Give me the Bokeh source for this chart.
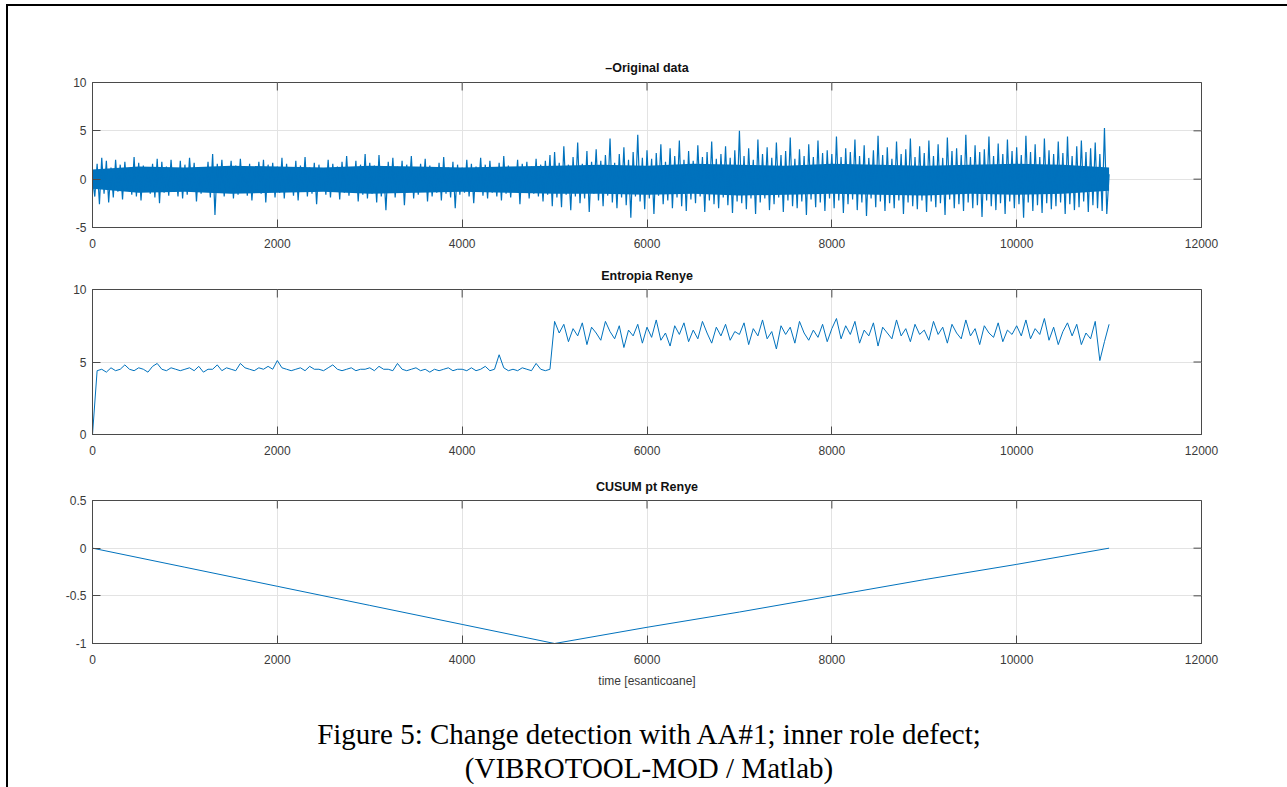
import math
from bokeh.plotting import figure
from bokeh.layouts import column
from bokeh.models import Div, LinearAxis, FixedTicker, Range1d, Title, Grid
from bokeh.embed import file_html
from bokeh.resources import INLINE

# ---------------- data ----------------
titles = ["\u2013Original data", "Entropia Renye", "CUSUM pt Renye"]
x_label = "time [esanticoane]"
x_ticks = [0, 2000, 4000, 6000, 8000, 10000, 12000]
y_ticks_orig = [-5, 0, 5, 10]
y_ticks_entr = [0, 5, 10]
y_ticks_cusum = [-1, -0.5, 0, 0.5]

orig_step = 25  # samples between listed values
orig_values = [
    # 0-1000
    0.0, -1.8, 1.6, -2.6, 2.2, -1.5, 1.9, -2.4, 1.2, -1.9, 2.0, -1.3, 1.5, -2.1, 1.8, -1.0, 1.1, -1.6, 2.3, -1.8,
    1.7, -2.2, 1.4, -1.2, 0.9, -1.5, 1.6, -1.9, 2.1, -2.5, 1.8, -1.4, 1.3, -1.7, 2.0, -1.2, 1.0, -1.8, 1.9, -2.0,
    # 1000-2000
    1.5, -1.6, 2.2, -1.1, 1.7, -2.3, 1.2, -1.5, 0.9, -1.2, 1.8, -1.9, 2.6, -3.7, 1.6, -1.4, 2.0, -1.8, 1.3, -1.0,
    1.9, -2.0, 1.4, -1.6, 2.1, -1.3, 1.0, -1.7, 1.6, -2.2, 1.2, -1.1, 1.8, -1.5, 2.0, -2.4, 1.5, -1.2, 1.7, -1.9,
    # 2000-3000
    1.3, -1.4, 2.2, -2.0, 1.6, -1.1, 1.0, -1.7, 1.9, -2.2, 1.4, -1.3, 2.3, -1.8, 1.2, -1.5, 1.7, -2.6, 1.5, -1.0,
    1.1, -1.6, 2.0, -1.9, 1.6, -1.2, 1.3, -2.1, 1.8, -1.4, 2.4, -1.7, 1.2, -1.3, 1.9, -2.3, 1.5, -1.6, 2.6, -2.0,
    # 3000-4000
    1.7, -1.5, 1.4, -2.4, 2.5, -1.8, 1.1, -3.2, 1.8, -1.3, 2.2, -1.9, 1.3, -1.4, 1.9, -2.7, 1.5, -1.2, 2.4, -2.0,
    1.2, -1.6, 1.6, -1.1, 2.1, -2.3, 1.4, -1.8, 1.0, -1.4, 1.7, -2.2, 2.3, -1.5, 1.2, -1.9, 1.8, -3.0, 1.5, -1.6,
    # 4000-5000
    1.2, -1.4, 2.0, -1.8, 1.6, -2.5, 1.3, -1.2, 2.2, -1.7, 1.5, -2.0, 1.9, -1.4, 1.1, -1.8, 1.7, -2.2, 2.4, -1.5,
    1.4, -1.9, 1.2, -1.3, 2.0, -2.6, 1.6, -1.1, 1.8, -2.0, 1.3, -1.5, 2.1, -1.8, 1.5, -2.3, 1.9, -1.6, 2.5, -2.8,
    # 5000-6000
    2.8, -1.9, 1.7, -2.9, 3.4, -1.6, 1.5, -3.2, 2.3, -1.8, 3.8, -2.5, 1.6, -2.0, 2.9, -3.4, 1.8, -1.5, 3.1, -2.2,
    1.9, -2.8, 2.5, -1.7, 4.2, -2.4, 1.7, -3.0, 2.6, -1.9, 3.3, -2.7, 2.0, -4.0, 2.8, -1.8, 4.6, -2.3, 2.2, -3.1,
    # 6000-7000
    3.0, -2.0, 2.1, -3.6, 2.7, -1.7, 3.6, -2.6, 1.8, -2.2, 3.2, -3.0, 2.4, -1.9, 4.0, -2.8, 2.0, -3.3, 2.9, -2.1,
    1.9, -2.5, 3.5, -1.8, 2.3, -3.4, 2.8, -2.2, 3.9, -2.6, 2.1, -3.0, 2.6, -1.9, 3.4, -2.7, 2.2, -3.5, 3.0, -2.3,
    # 7000-8000
    5.0, -2.5, 2.4, -3.1, 3.2, -2.0, 2.0, -3.6, 4.1, -2.4, 2.6, -2.0, 3.3, -3.2, 2.2, -2.6, 3.8, -1.9, 2.5, -3.4,
    2.9, -2.2, 4.3, -2.8, 2.1, -3.0, 3.1, -2.3, 2.4, -3.7, 3.6, -2.1, 2.3, -2.9, 4.0, -2.4, 2.7, -3.3, 3.0, -2.0,
    # 8000-9000
    2.6, -3.0, 4.4, -2.2, 2.3, -3.5, 3.2, -2.6, 2.8, -2.1, 4.1, -3.2, 2.4, -2.4, 3.5, -3.8, 2.2, -2.0, 3.0, -2.9,
    4.5, -2.3, 2.5, -3.3, 3.3, -2.5, 2.1, -3.0, 3.9, -2.2, 2.6, -3.6, 3.1, -2.4, 4.2, -2.8, 2.3, -3.1, 3.4, -2.2,
    # 9000-10000
    2.7, -3.4, 4.0, -2.3, 2.4, -2.9, 3.6, -2.5, 2.2, -3.7, 4.3, -2.1, 2.9, -3.0, 3.2, -2.6, 2.5, -3.3, 4.6, -2.4,
    2.3, -3.0, 3.5, -2.7, 2.8, -3.9, 3.1, -2.2, 4.4, -2.8, 2.4, -3.2, 3.7, -2.5, 2.6, -3.6, 4.1, -2.3, 2.9, -3.0,
    # 10000-11000
    3.3, -2.6, 2.5, -4.0, 4.5, -2.4, 2.8, -3.3, 3.6, -2.7, 2.3, -3.5, 4.2, -2.5, 3.0, -3.1, 2.6, -2.8, 3.9, -2.4,
    2.7, -3.6, 4.4, -2.6, 2.4, -3.2, 3.4, -2.9, 4.0, -2.3, 2.8, -3.4, 3.2, -2.7, 3.8, -3.0, 2.6, -3.3, 5.3, -3.6,
    0.5,
]

# dense core of the signal band (every 500 samples)
core_step = 500
core_upper = [1.0, 1.3, 1.2, 1.4, 1.3, 1.2, 1.4, 1.3, 1.2, 1.3, 1.4, 1.5,
              1.4, 1.6, 1.5, 1.4, 1.6, 1.5, 1.4, 1.5, 1.6, 1.5, 1.2]
core_lower = [-1.0, -1.4, -1.3, -1.5, -1.4, -1.3, -1.5, -1.4, -1.3, -1.4, -1.5, -1.5,
              -1.6, -1.5, -1.7, -1.6, -1.5, -1.6, -1.7, -1.5, -1.6, -1.5, -1.2]

entr_step = 50
entr_values = [
    # 0-1000
    0.0, 4.4, 4.5, 4.3, 4.6, 4.4, 4.5, 4.8, 4.5, 4.4, 4.6, 4.5, 4.3, 4.7, 4.9, 4.5, 4.4, 4.6, 4.5, 4.4,
    # 1000-2000
    4.5, 4.6, 4.4, 4.7, 4.3, 4.5, 4.5, 4.8, 4.4, 4.6, 4.5, 4.4, 4.9, 4.6, 4.5, 4.4, 4.6, 4.5, 4.7, 4.5,
    # 2000-3000
    5.1, 4.6, 4.5, 4.4, 4.5, 4.6, 4.4, 4.7, 4.5, 4.5, 4.4, 4.6, 4.8, 4.5, 4.4, 4.5, 4.6, 4.4, 4.5, 4.5,
    # 3000-4000
    4.6, 4.4, 4.7, 4.5, 4.5, 4.4, 4.9, 4.5, 4.4, 4.5, 4.6, 4.4, 4.5, 4.3, 4.5, 4.4, 4.5, 4.6, 4.4, 4.5,
    # 4000-5000
    4.5, 4.4, 4.6, 4.4, 4.5, 4.7, 4.4, 4.5, 5.5, 4.6, 4.4, 4.5, 4.4, 4.6, 4.5, 4.4, 4.9, 4.5, 4.4, 4.5,
    # 5000-6000
    7.8, 7.0, 7.6, 6.4, 7.3, 6.8, 7.7, 6.2, 7.4, 7.0, 6.5, 7.8, 7.1, 6.6, 7.5, 6.0, 7.2, 6.8, 7.6, 6.3,
    # 6000-7000
    7.4, 6.7, 7.9, 6.5, 7.0, 6.1, 7.5, 6.9, 7.7, 6.4, 7.2, 6.6, 7.8, 7.0, 6.3, 7.4, 6.8, 7.6, 6.5, 7.1,
    # 7000-8000
    6.9, 7.7, 6.2, 7.3, 6.8, 7.9, 6.6, 7.1, 5.9, 7.5, 6.9, 7.4, 6.3, 7.8, 7.0, 6.5, 7.2, 6.7, 7.6, 6.4,
    # 8000-9000
    7.3, 8.0, 6.6, 7.5, 6.9, 7.8, 6.3, 7.2, 6.8, 7.7, 6.1, 7.4, 7.0, 6.6, 7.9, 6.8, 7.3, 6.4, 7.6, 6.9,
    # 9000-10000
    7.2, 6.5, 7.8, 6.9, 7.4, 6.3, 7.6, 7.0, 6.6, 7.9, 6.8, 7.3, 6.2, 7.5, 7.0, 6.7, 7.7, 6.4, 7.2, 6.9,
    # 10000-11000
    7.5, 6.8, 7.9, 6.6, 7.3, 6.9, 8.0, 6.5, 7.4, 6.2, 7.1, 7.7, 6.8, 7.6, 6.2, 7.0, 6.6, 7.8, 5.1, 6.4,
    7.6,
]

cusum_x = [0, 1000, 2000, 3000, 4000, 5000, 6000, 7000, 8000, 9000, 10000, 11000]
cusum_values = [0.0, -0.2, -0.4, -0.6, -0.8, -1.0, -0.83, -0.67, -0.5, -0.33, -0.17, 0.0]

caption_lines = ["Figure 5: Change detection with AA#1; inner role defect;",
                 "(VIBROTOOL-MOD / Matlab)"]

orig_x = [i * orig_step for i in range(len(orig_values))]
core_x = [i * core_step for i in range(len(core_upper))]
entr_x = [i * entr_step for i in range(len(entr_values))]

# ---------------- styling ----------------
LINE = "#0072BD"
AX = "#4a4a4a"
GRID = "#e3e3e3"
FONT = "Liberation Sans"
W = 1272
X_MAX = 12000


def panel(title, yr, yticks, height, top, bottom, xlabel=None, title_standoff=15):
    p = figure(width=W, height=height, output_backend="svg", toolbar_location=None,
               x_range=Range1d(0, X_MAX), y_range=Range1d(*yr),
               min_border_left=84, min_border_right=79,
               min_border_top=top, min_border_bottom=bottom,
               x_axis_location=None, y_axis_location=None)
    for g in list(p.grid):
        g.visible = False
    p.outline_line_color = AX
    p.outline_line_width = 1
    p.background_fill_color = "white"
    p.border_fill_color = "white"
    xt = FixedTicker(ticks=x_ticks, minor_ticks=[])
    yt = FixedTicker(ticks=yticks, minor_ticks=[])
    for side, tk in [("below", xt), ("left", yt)]:
        ax = LinearAxis(ticker=tk)
        ax.axis_line_color = AX
        ax.major_tick_line_color = AX
        ax.major_tick_in = 8
        ax.major_tick_out = 0
        ax.minor_tick_line_color = None
        ax.major_label_text_font = FONT
        ax.major_label_text_font_size = "12px"
        ax.major_label_text_color = "#3a3a3a"
        ax.major_label_standoff = 11 if side == "below" else 6
        ax.major_label_overrides = {t: str(t) for t in tk.ticks}
        if side == "below" and xlabel:
            ax.axis_label = xlabel
            ax.axis_label_text_font = FONT
            ax.axis_label_text_font_size = "12px"
            ax.axis_label_text_font_style = "normal"
            ax.axis_label_text_color = "#3a3a3a"
            ax.axis_label_standoff = 7
        p.add_layout(ax, side)
    p.add_layout(Grid(dimension=0, ticker=xt, grid_line_color=GRID))
    p.add_layout(Grid(dimension=1, ticker=yt, grid_line_color=GRID))
    # inward tick marks on the top and right edges of the box
    p.scatter(x_ticks, [yr[1]] * len(x_ticks), marker="dash", size=16, angle=math.pi / 2,
              line_color=AX, line_width=1)
    p.scatter([X_MAX] * len(yticks), yticks, marker="dash", size=16,
              line_color=AX, line_width=1)
    t = Title(text=title, align="center", text_font=FONT, text_font_size="12.5px",
              text_font_style="bold", text_color="#111111", standoff=title_standoff)
    p.add_layout(t, "above")
    return p


p1 = panel(titles[0], (-5, 10), y_ticks_orig, 254, 76, 33, title_standoff=15)
p1.varea(core_x, core_lower, core_upper, fill_color=LINE)
p1.line(orig_x, orig_values, line_color=LINE, line_width=1.2)

p2 = panel(titles[1], (0, 10), y_ticks_entr, 210, 29, 36, title_standoff=13)
p2.line(entr_x, entr_values, line_color=LINE, line_width=1)

p3 = panel(titles[2], (-1, 0.5), y_ticks_cusum, 230, 29, 57, xlabel=x_label, title_standoff=14)
p3.line(cusum_x, cusum_values, line_color=LINE, line_width=1)

cap = Div(text=("<div style=\"font-family:'Liberation Serif','Times New Roman',serif;"
                "font-size:29px;line-height:34px;text-align:center;padding-top:12px;width:%dpx;color:#000\">"
                "%s<br>%s</div>") % (W, caption_lines[0], caption_lines[1]),
          width=W, height=85, styles={"overflow": "visible"})

layout = column(p1, p2, p3, cap, spacing=0, margin=(4, 0, 0, 6),
                styles={"border-left": "2px solid black", "border-right": "2px solid black",
                        "border-top": "2px solid black", "background-color": "white"})

open("out.html", "w").write(file_html(layout, INLINE))
